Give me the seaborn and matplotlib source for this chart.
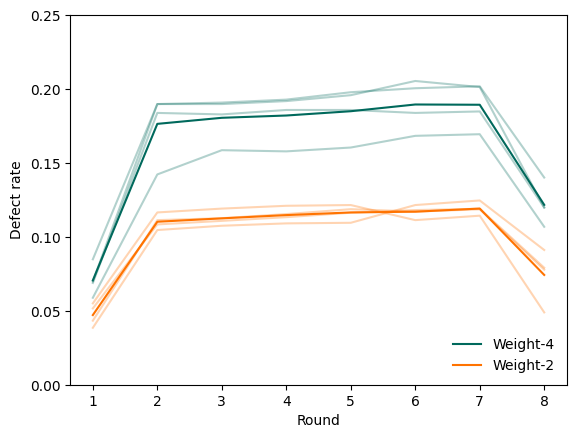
import pandas as pd
import matplotlib
matplotlib.use("Agg")
import matplotlib.pyplot as plt
import seaborn as sns

rounds = [1, 2, 3, 4, 5, 6, 7, 8]

# individual runs, weight-4
w4_runs = [
    [0.085, 0.190, 0.190, 0.192, 0.196, 0.2056, 0.2015, 0.120],
    [0.070, 0.190, 0.191, 0.193, 0.198, 0.2007, 0.202, 0.1403],
    [0.069, 0.184, 0.183, 0.186, 0.186, 0.184, 0.185, 0.120],
    [0.059, 0.1424, 0.1588, 0.158, 0.1606, 0.1685, 0.1696, 0.107],
]

# individual runs, weight-2
w2_runs = [
    [0.0552, 0.1167, 0.1193, 0.1212, 0.1217, 0.1115, 0.1145, 0.0491],
    [0.0387, 0.1048, 0.1077, 0.1093, 0.1097, 0.1217, 0.1248, 0.0913],
    [0.0518, 0.1086, 0.1110, 0.1135, 0.1165, 0.1183, 0.1192, 0.0793],
    [0.0435, 0.1115, 0.1128, 0.1156, 0.1189, 0.1173, 0.1188, 0.0780],
]

groups = ["Weight-4", "Weight-2"]
colors = {"Weight-4": "#00695c", "Weight-2": "#ff7300"}

rows = []
for name, runs in zip(groups, [w4_runs, w2_runs]):
    for i, run in enumerate(runs):
        for r, v in zip(rounds, run):
            rows.append({"group": name, "run": i, "Round": r, "Defect rate": v})
df = pd.DataFrame(rows)

fig, ax = plt.subplots(figsize=(5.76, 4.38))
fig.subplots_adjust(left=0.122, right=0.984, top=0.965, bottom=0.121)

# faint individual runs
for name in groups:
    sub = df[df["group"] == name]
    sns.lineplot(data=sub, x="Round", y="Defect rate", units="run", estimator=None,
                 color=colors[name], alpha=0.3, lw=1.5, ax=ax, legend=False)

# group means
sns.lineplot(data=df, x="Round", y="Defect rate", hue="group", palette=colors,
             errorbar=None, lw=1.5, ax=ax)

ax.set_ylim(0, 0.25)
ax.set_xticks(rounds)
ax.legend(title=None, frameon=False, loc="lower right")

plt.savefig("out.png", dpi=100)
